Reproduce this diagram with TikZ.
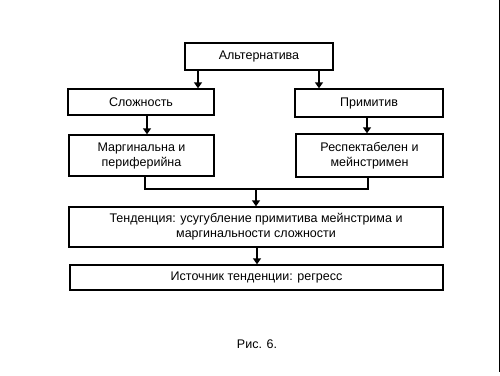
\documentclass[tikz,border=0pt]{standalone}
\usepackage{fontspec}
\setmainfont{Liberation Sans}
\usetikzlibrary{arrows.meta}
\begin{document}
\begin{tikzpicture}[x=1pt,y=-1pt,
  box/.style={draw=black,line width=1.4pt,inner sep=0pt,align=center,
    font=\fontsize{12.5}{15}\selectfont},
  arr/.style={line width=1.4pt,-{Triangle[length=6pt,width=8pt]}},
  link/.style={line width=1.4pt}]
\useasboundingbox (0,0) rectangle (500,375);
\fill[white] (0,0) rectangle (500,375);
\draw[line width=1pt] (499.3,0) -- (499.3,372);
\node[box,minimum width=148pt,minimum height=27pt] (alt) at (259,56.5) {Альтернатива};
\node[box,minimum width=146pt,minimum height=26pt] (slo) at (141,102) {Сложность};
\node[box,minimum width=148pt,minimum height=28pt] (pri) at (369,103) {Примитив};
\node[box,minimum width=145pt,minimum height=41pt] (mar) at (141.5,155.5) {Маргинальна и\\периферийна};
\node[box,minimum width=147pt,minimum height=43pt] (res) at (369.5,155.5) {Респектабелен и\\мейнстримен};
\node[box,minimum width=374pt,minimum height=40pt] (ten) at (256,227) {Тенденция: усугубление примитива мейнстрима и\\маргинальности сложности};
\node[box,minimum width=373pt,minimum height=25pt] (ist) at (256.5,277.5) {Источник тенденции: регресс};
\node[font=\fontsize{12.5}{15}\selectfont] (cap) at (257,344) {Рис. 6.};
\coordinate (j) at (256,189);
\draw[arr] ([xshift=-61pt]alt.south) -- ([xshift=-61pt]alt.south |- slo.north);
\draw[arr] ([xshift=60pt]alt.south) -- ([xshift=60pt]alt.south |- pri.north);
\draw[arr] ([xshift=6pt]slo.south) -- ([xshift=6pt]slo.south |- mar.north);
\draw[arr] ([xshift=-2pt]pri.south) -- ([xshift=-2pt]pri.south |- res.north);
\draw[link] ([xshift=3.5pt]mar.south) |- (j) -| ([xshift=-1.5pt]res.south);
\draw[arr] (j) -- (j |- ten.north);
\draw[arr] ([xshift=1pt]ten.south) -- ([xshift=1pt]ten.south |- ist.north);
\end{tikzpicture}
\end{document}
